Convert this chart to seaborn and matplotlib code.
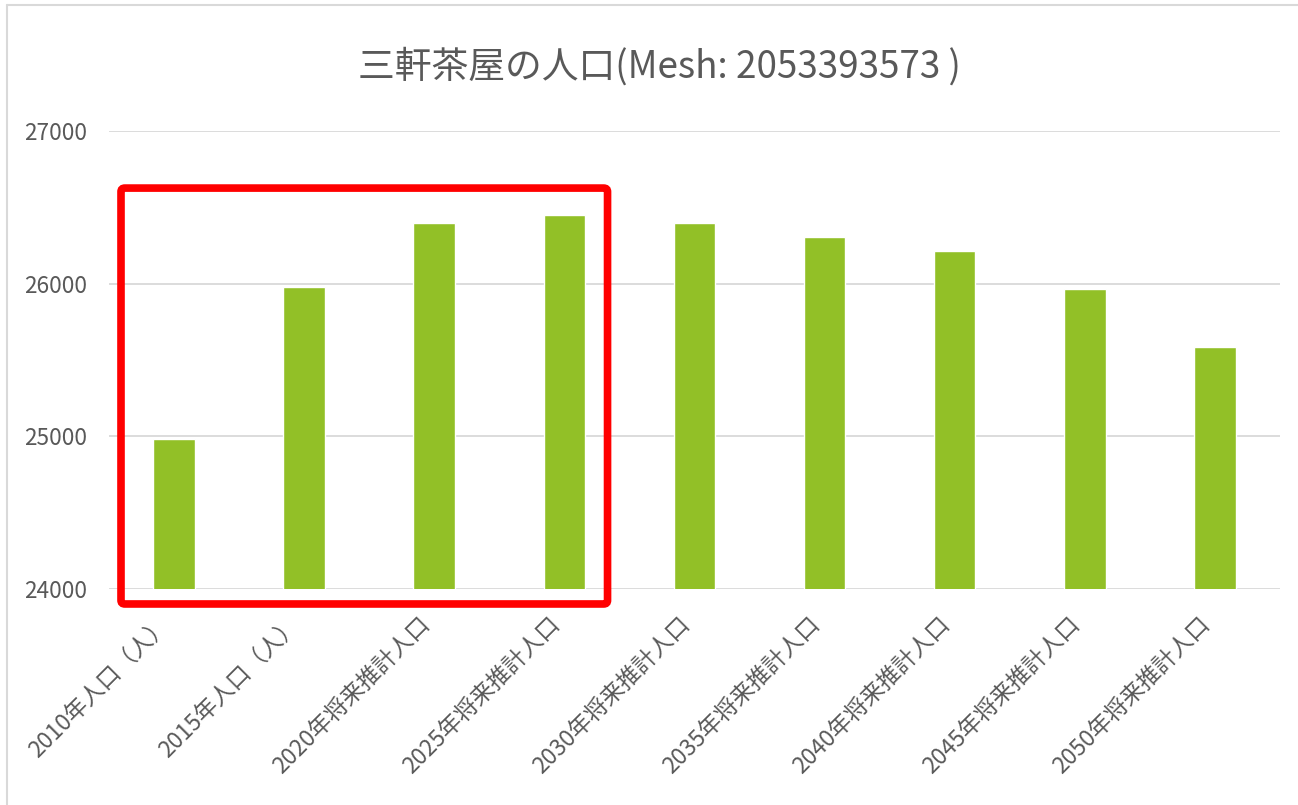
import matplotlib
matplotlib.use("Agg")
import matplotlib.pyplot as plt
import seaborn as sns
import pandas as pd
from matplotlib.patches import FancyBboxPatch
from matplotlib.lines import Line2D

# data
labels = ["2010年人口（人）", "2015年人口（人）", "2020年将来推計人口", "2025年将来推計人口",
          "2030年将来推計人口", "2035年将来推計人口", "2040年将来推計人口",
          "2045年将来推計人口", "2050年将来推計人口"]
population = [24980, 25978, 26397, 26449, 26397, 26305, 26213, 25965, 25585]
yticks = [24000, 25000, 26000, 27000]
title = "三軒茶屋の人口(Mesh: 2053393573 )"

df = pd.DataFrame({"label": labels, "population": population})

sns.set_theme(style="white")
plt.rcParams['font.family'] = ['Noto Sans CJK JP', 'DejaVu Sans']
text_color = "#595959"
grid_color = "#d9d9d9"

fig = plt.figure(figsize=(12.98, 8.05), dpi=100)
ax = fig.add_axes([0.084, 0.2683, 0.902, 0.569])

sns.barplot(data=df, x="label", y="population", color="#92C027", width=0.32,
            saturation=1, ax=ax, zorder=3)

ax.set_ylim(24000, 27000)
ax.set_yticks(yticks)
ax.set_yticklabels([str(v) for v in yticks], fontsize=16.3, color=text_color)
ax.set_xlim(-0.5, len(labels) - 0.5)
ax.yaxis.grid(True, color=grid_color, linewidth=1.3, zorder=0)
ax.tick_params(axis="y", length=0, pad=16)
ax.tick_params(axis="x", length=0, pad=17)
for s in ax.spines.values():
    s.set_visible(False)
ax.set_xlabel("")
ax.set_ylabel("")
plt.setp(ax.get_xticklabels(), rotation=45, ha="right", va="top",
         rotation_mode="default", fontsize=16.5, color=text_color)

fig.text(0.508, 0.917, title, ha="center", va="center", fontsize=26.5, color=text_color)

# highlight box around the first four bars
box = FancyBboxPatch((-0.408, 23902), 3.74, 2724, boxstyle="round,pad=0,rounding_size=0.03",
                     transform=ax.transData, fill=False, edgecolor="#ff0000",
                     linewidth=5.5, clip_on=False, zorder=5, mutation_aspect=800)
ax.add_patch(box)

# chart area border (top and left visible)
fig.add_artist(Line2D([0.0054, 1.0], [0.9938, 0.9938], color=grid_color, linewidth=1.5))
fig.add_artist(Line2D([0.0054, 0.0054], [0.0, 0.9938], color=grid_color, linewidth=1.5))

fig.savefig("out.png", dpi=100, facecolor="white")
